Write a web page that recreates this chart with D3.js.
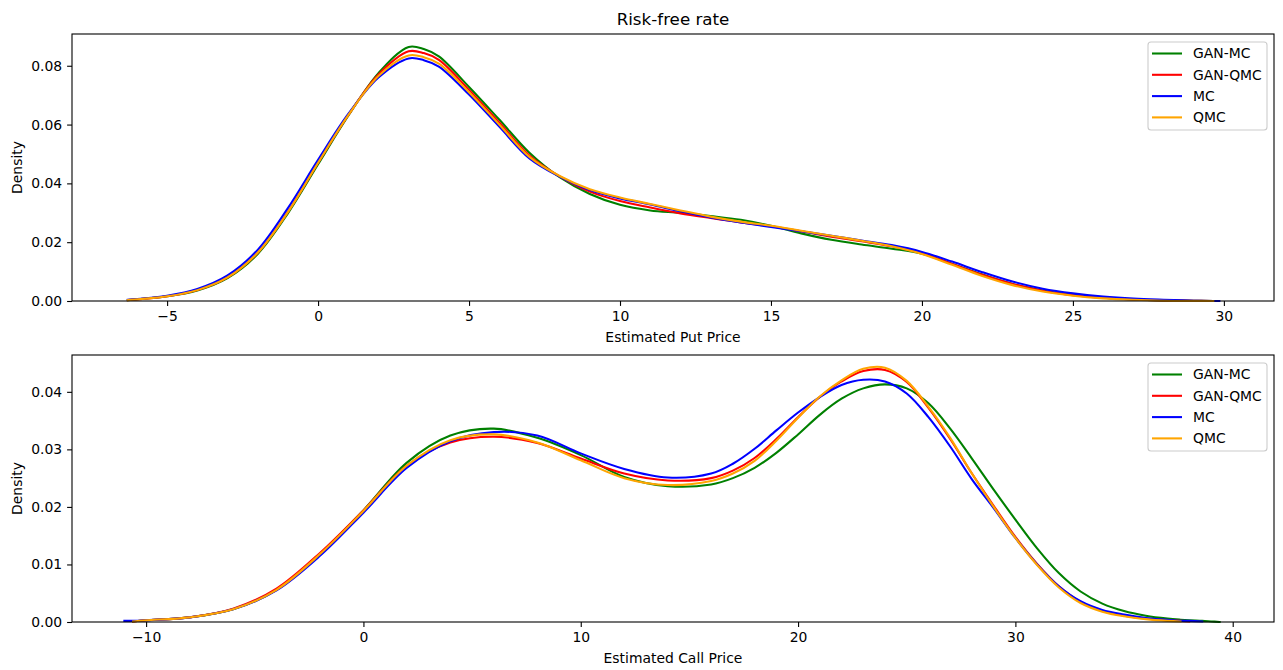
<!DOCTYPE html>
<html>
<head>
<meta charset="utf-8">
<script src="https://cdn.jsdelivr.net/npm/d3@7"></script>
<style>
  html, body { margin: 0; padding: 0; background: #fff; }
  svg { display: block; font-family: "DejaVu Sans", sans-serif; }
</style>
</head>
<body>
<svg id="chart" width="1283" height="670"></svg>
<script>
// ---------------- DATA ----------------
const seriesNames = ["GAN-MC", "GAN-QMC", "MC", "QMC"];
const seriesColors = ["green", "red", "blue", "orange"];

// Put price KDE (top panel)
const putX = [-6.3, -5, -4, -3, -2, -1, 0, 1, 2, 3, 3.5, 4, 5, 6, 7, 8, 9, 10, 11, 12, 13, 14, 15, 16, 17, 18, 19, 20, 21, 22, 23, 24, 25, 26, 27, 28, 29, 29.65, 29.85];
const putGanMC  = [0.0003, 0.0016, 0.0036, 0.0078, 0.0160, 0.0298, 0.0465, 0.0630, 0.0775, 0.0864, 0.0857, 0.0832, 0.0728, 0.0617, 0.0504, 0.0421, 0.0364, 0.0327, 0.0308, 0.0300, 0.0289, 0.0276, 0.0256, 0.0230, 0.0208, 0.0192, 0.0178, 0.0161, 0.0126, 0.0090, 0.0058, 0.0036, 0.0021, 0.0011, 0.0005, 0.0002, 0.0001, 0.0000, null];
const putGanQMC = [0.0003, 0.0016, 0.0037, 0.0080, 0.0164, 0.0303, 0.0470, 0.0632, 0.0770, 0.0849, 0.0843, 0.0820, 0.0718, 0.0607, 0.0495, 0.0424, 0.0372, 0.0340, 0.0318, 0.0298, 0.0282, 0.0267, 0.0254, 0.0237, 0.0219, 0.0203, 0.0186, 0.0162, 0.0126, 0.0089, 0.0058, 0.0035, 0.0020, 0.0011, 0.0005, 0.0002, 0.0001, 0.0000, null];
const putMC     = [0.0004, 0.0018, 0.0041, 0.0087, 0.0174, 0.0316, 0.0480, 0.0636, 0.0760, 0.0825, 0.0819, 0.0797, 0.0702, 0.0593, 0.0485, 0.0423, 0.0377, 0.0349, 0.0328, 0.0305, 0.0284, 0.0267, 0.0252, 0.0237, 0.0222, 0.0206, 0.0190, 0.0167, 0.0134, 0.0098, 0.0066, 0.0042, 0.0026, 0.0015, 0.0008, 0.0004, 0.0001, 0.0000, 0.0000];
const putQMC    = [0.0003, 0.0016, 0.0037, 0.0080, 0.0164, 0.0302, 0.0470, 0.0632, 0.0765, 0.0835, 0.0829, 0.0807, 0.0710, 0.0600, 0.0490, 0.0425, 0.0380, 0.0352, 0.0330, 0.0308, 0.0287, 0.0270, 0.0256, 0.0239, 0.0222, 0.0205, 0.0186, 0.0160, 0.0123, 0.0085, 0.0054, 0.0032, 0.0018, 0.0009, 0.0004, 0.0001, 0.0000, 0.0000, null];

// Call price KDE (bottom panel)
const callX = [-11, -10.6, -10, -8, -6, -4, -2, 0, 2, 4, 6, 8, 10, 12, 14, 16, 17, 18, 19, 20, 21, 22, 23, 24, 25, 26, 27, 28, 29, 30, 31, 32, 33, 34, 35, 36, 37, 37.6, 38, 38.6, 39, 39.4];
const callGanMC  = [null, 0.0001, 0.0003, 0.0008, 0.0022, 0.0056, 0.0118, 0.0194, 0.0277, 0.0324, 0.0336, 0.0320, 0.0290, 0.0252, 0.0236, 0.0239, 0.0250, 0.0268, 0.0294, 0.0326, 0.0360, 0.0388, 0.0406, 0.0413, 0.0406, 0.0380, 0.0336, 0.0284, 0.0230, 0.0178, 0.0128, 0.0085, 0.0053, 0.0032, 0.0019, 0.0011, 0.0006, 0.0004, 0.0003, 0.0002, 0.0001, 0.0000];
const callGanQMC = [null, 0.0001, 0.0003, 0.0008, 0.0023, 0.0058, 0.0120, 0.0194, 0.0272, 0.0312, 0.0322, 0.0311, 0.0284, 0.0258, 0.0246, 0.0250, 0.0263, 0.0285, 0.0318, 0.0356, 0.0391, 0.0418, 0.0436, 0.0438, 0.0417, 0.0372, 0.0318, 0.0258, 0.0202, 0.0148, 0.0101, 0.0062, 0.0035, 0.0019, 0.0011, 0.0006, 0.0003, 0.0002, 0.0001, null, null, null];
const callMC     = [0.0002, 0.0002, 0.0003, 0.0008, 0.0022, 0.0055, 0.0115, 0.0190, 0.0268, 0.0314, 0.0330, 0.0324, 0.0293, 0.0266, 0.0251, 0.0258, 0.0275, 0.0301, 0.0333, 0.0364, 0.0391, 0.0412, 0.0421, 0.0418, 0.0397, 0.0356, 0.0305, 0.0248, 0.0198, 0.0146, 0.0100, 0.0062, 0.0036, 0.0021, 0.0013, 0.0007, 0.0004, 0.0002, 0.0002, 0.0001, null, null];
const callQMC    = [null, 0.0001, 0.0003, 0.0008, 0.0022, 0.0056, 0.0118, 0.0193, 0.0272, 0.0316, 0.0326, 0.0312, 0.0281, 0.0250, 0.0238, 0.0245, 0.0258, 0.0280, 0.0315, 0.0355, 0.0392, 0.0420, 0.0440, 0.0442, 0.0419, 0.0374, 0.0320, 0.0258, 0.0200, 0.0146, 0.0099, 0.0060, 0.0033, 0.0018, 0.0010, 0.0005, 0.0002, 0.0001, null, null, null, null];

const putXTicks = [-5, 0, 5, 10, 15, 20, 25, 30];
const putYTicks = [0, 0.02, 0.04, 0.06, 0.08];
const callXTicks = [-10, 0, 10, 20, 30, 40];
const callYTicks = [0, 0.01, 0.02, 0.03, 0.04];

const titleText = "Risk-free rate";
const putXLabel = "Estimated Put Price";
const callXLabel = "Estimated Call Price";
const yLabel = "Density";

// ---------------- DRAW ----------------
const svg = d3.select("#chart");
const FS = 13.9;
const tick = 4.9;
let clipId = 0;

function panel(cfg) {
  const {left, right, top, bottom, xDomain, yDomain, xTicks, yTicks, yFmt, xs, series, xlabel} = cfg;
  const x = d3.scaleLinear().domain(xDomain).range([left, right]);
  const y = d3.scaleLinear().domain(yDomain).range([bottom, top]);
  const g = svg.append("g");
  const cid = "clip" + (clipId++);
  svg.append("defs").append("clipPath").attr("id", cid)
    .append("rect").attr("x", left).attr("y", top).attr("width", right - left).attr("height", bottom - top + 1);

  const line = d3.line()
    .defined(d => d[1] !== null)
    .x(d => x(d[0]))
    .y(d => y(d[1]))
    .curve(d3.curveCatmullRom.alpha(0.5));

  const lines = g.append("g").attr("clip-path", `url(#${cid})`);
  series.forEach((vals, i) => {
    lines.append("path")
      .datum(xs.map((xv, j) => [xv, vals[j]]))
      .attr("fill", "none")
      .attr("stroke", seriesColors[i])
      .attr("stroke-width", 2.08)
      .attr("stroke-linejoin", "round")
      .attr("stroke-linecap", "square")
      .attr("d", line);
  });

  // axes
  const xa = g.append("g").attr("transform", `translate(0,${bottom})`)
    .call(d3.axisBottom(x).tickValues(xTicks).tickFormat(d3.format("d")).tickSize(tick).tickSizeOuter(0).tickPadding(tick));
  const ya = g.append("g").attr("transform", `translate(${left},0)`)
    .call(d3.axisLeft(y).tickValues(yTicks).tickFormat(d3.format(yFmt)).tickSize(tick).tickSizeOuter(0).tickPadding(tick));
  [xa, ya].forEach(a => {
    a.select(".domain").remove();
    a.selectAll(".tick line").attr("stroke", "#000").attr("stroke-width", 1.1);
    a.selectAll(".tick text").attr("font-size", FS).attr("fill", "#000").attr("font-family", "DejaVu Sans");
  });

  // spines
  g.append("rect")
    .attr("x", left).attr("y", top)
    .attr("width", right - left).attr("height", bottom - top)
    .attr("fill", "none").attr("stroke", "#000").attr("stroke-width", 1.1);

  // labels
  g.append("text")
    .attr("x", (left + right) / 2).attr("y", bottom + 41)
    .attr("text-anchor", "middle").attr("font-size", FS).attr("fill", "#000")
    .text(xlabel);
  g.append("text")
    .attr("transform", `translate(${left - 50},${(top + bottom) / 2}) rotate(-90)`)
    .attr("text-anchor", "middle").attr("font-size", FS).attr("fill", "#000")
    .text(yLabel);

  // legend
  const lx = right - 126, ly = top + 8;
  const lg = g.append("g");
  lg.append("rect")
    .attr("x", lx).attr("y", ly).attr("width", 119).attr("height", 88)
    .attr("rx", 3).attr("ry", 3)
    .attr("fill", "#fff").attr("fill-opacity", 0.8)
    .attr("stroke", "#cccccc").attr("stroke-width", 1.1);
  seriesNames.forEach((name, i) => {
    const ry = ly + 11.5 + i * 21.3;
    lg.append("line")
      .attr("x1", lx + 4).attr("x2", lx + 34)
      .attr("y1", ry).attr("y2", ry)
      .attr("stroke", seriesColors[i]).attr("stroke-width", 2.08);
    lg.append("text")
      .attr("x", lx + 45).attr("y", ry).attr("dy", "0.35em")
      .attr("font-size", FS).attr("fill", "#000")
      .text(name);
  });
}

panel({
  left: 72, right: 1274, top: 34, bottom: 301,
  xDomain: [-8.15, 31.66], yDomain: [0, 0.0908],
  xTicks: putXTicks, yTicks: putYTicks, yFmt: ".2f",
  xs: putX, series: [putGanMC, putGanQMC, putMC, putQMC],
  xlabel: putXLabel
});

panel({
  left: 72, right: 1274, top: 355, bottom: 622,
  xDomain: [-13.41, 41.9], yDomain: [0, 0.0464],
  xTicks: callXTicks, yTicks: callYTicks, yFmt: ".2f",
  xs: callX, series: [callGanMC, callGanQMC, callMC, callQMC],
  xlabel: callXLabel
});

svg.append("text")
  .attr("x", 673).attr("y", 25)
  .attr("text-anchor", "middle").attr("font-size", 16.7).attr("fill", "#000")
  .text(titleText);
</script>
</body>
</html>
